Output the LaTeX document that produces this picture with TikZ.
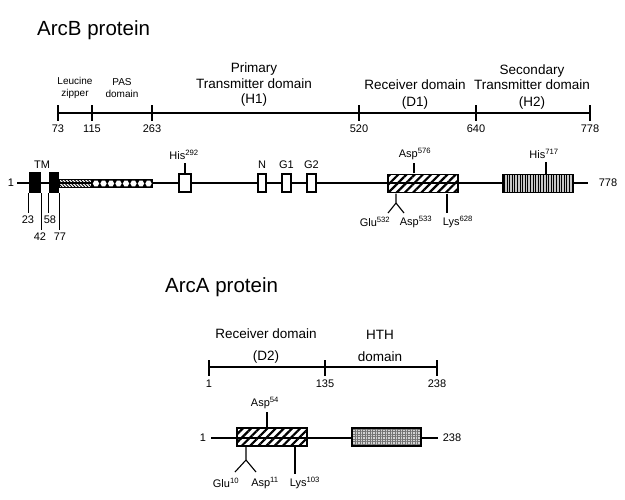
\documentclass[tikz,border=0pt]{standalone}
\usepackage{fontspec}
\setmainfont{Liberation Sans}
\usetikzlibrary{positioning, patterns, patterns.meta}

\begin{document}
\begin{tikzpicture}[x=1pt, y=-1pt,
    lbl/.style={inner sep=0pt, font=\fontsize{11}{12}\selectfont},
    smalllbl/.style={inner sep=0pt, font=\fontsize{10}{12}\selectfont, align=center},
    domlbl/.style={inner sep=0pt, font=\fontsize{13.5}{15.5}\selectfont, align=center},
    title/.style={inner sep=0pt, anchor=base west, font=\fontsize{20.5}{24}\selectfont},
    chain/.style={line width=2pt},
    tick/.style={line width=1.2pt},
    pin/.style={line width=1.1pt},
    seg/.style={draw, line width=1.8pt, rectangle, inner sep=0pt, minimum height=18pt},
    tmseg/.style={seg, fill=black, minimum height=19.5pt},
    linker/.style={draw, line width=1.2pt, rectangle, inner sep=0pt, minimum height=8pt},
    recpat/.style={pattern={Lines[angle=45, distance=5.8pt, line width=2.2pt]}},
    zippat/.style={pattern={Lines[angle=-45, distance=2.3pt, line width=0.9pt]}},
    stripepat/.style={preaction={fill=gray!45}, pattern={Lines[angle=90, distance=2.6pt, line width=0.9pt]}},
    stipplepat/.style={preaction={fill=gray!35}, pattern color=gray!90!black, pattern={Hatch[distance=2.5pt, line width=0.45pt]}}]

\useasboundingbox (0,0) rectangle (625,499);

% ArcB
\node [title] (arcb) at (37,35) {ArcB protein};

\foreach \v/\x in {73/58, 115/92, 263/152, 520/359, 640/476, 778/590} {
    \coordinate (b\v) at (\x,113);
    \draw [tick] (\x,105) -- (\x,121);
    \node [lbl] (nb\v) at (\x,129) {\v};
}
\draw [tick] (b73) -- (b778);

\node [smalllbl] (leu) at (75,88) {Leucine\\zipper};
\node [smalllbl] (pas) at (122,88) {PAS\\domain};
\node [domlbl] (h1) at (254,85) {Primary\\Transmitter domain\\(H1)};
\node [domlbl] (d1) at (415,94.5) {Receiver domain\\[1.5pt](D1)};
\node [domlbl] (h2) at (532,87) {Secondary\\Transmitter domain\\[1.5pt](H2)};

\node [lbl] (b1) at (11,183) {1};
\node [lbl] (bn) at (608,183) {778};
\coordinate (bl) at (17,183);
\coordinate (br) at (588,183);
\draw [chain] (bl) -- (br);

\node [tmseg, minimum width=10.5pt] (tm1) at (35,182.5) {};
\node [tmseg, minimum width=8.5pt] (tm2) at (54,182.5) {};
\node [linker, zippat, minimum width=33pt] (lz) at (75.5,183.5) {};
\node [linker, fill=black, minimum width=60pt] (pasbox) at (122,183.5) {};
\foreach \i in {0,...,7} {
    \fill [white] ({96+7.5*\i},183.5) +(0:3.2pt) -- +(60:3.2pt) -- +(120:3.2pt)
        -- +(180:3.2pt) -- +(240:3.2pt) -- +(300:3.2pt) -- cycle;
}
\node [seg, fill=white, minimum width=12pt] (his292) at (185,183) {};
\node [seg, fill=white, minimum width=8.5pt] (nbox) at (262,183) {};
\node [seg, fill=white, minimum width=9pt] (g1box) at (286.5,183) {};
\node [seg, fill=white, minimum width=9pt] (g2box) at (311.5,183) {};
\node [seg, recpat, minimum width=70pt] (recb) at (423,183.5) {};
\node [seg, stripepat, minimum width=70pt] (h2box) at (538,183.5) {};

% labels of the ArcB chain
\node [lbl] (tm) at (42,165) {TM};
\node [lbl] (n23) at (28,220) {23};
\node [lbl] (n42) at (40,237) {42};
\node [lbl] (n58) at (50,220) {58};
\node [lbl] (n77) at (60,237) {77};
\draw [pin] (tm1.south west) -- ([yshift=3pt]tm1.south west |- n23.north);
\draw [pin] (tm1.south east) -- ([yshift=3pt]tm1.south east |- n42.north);
\draw [pin] (tm2.south west) -- ([yshift=3pt]tm2.south west |- n58.north);
\draw [pin] (tm2.south east) -- ([yshift=3pt]tm2.south east |- n77.north);

\node [lbl] (his) at (184,155) {His\textsuperscript{292}};
\draw [pin] (his292.north) -- ([yshift=-3pt]his292.north |- his.south);
\node [lbl] (nl) at (262,165) {N};
\node [lbl] (g1l) at (286.5,165) {G1};
\node [lbl] (g2l) at (311.5,165) {G2};

\node [lbl] (asp576) at (415,154) {Asp\textsuperscript{576}};
\draw [pin] ([xshift=-9pt]recb.north) -- ([xshift=-9pt, yshift=-3pt]recb.north |- asp576.south);
\node [lbl] (his717) at (544,154) {His\textsuperscript{717}};
\draw [pin] ([xshift=8pt]h2box.north) -- ([xshift=8pt, yshift=-3pt]h2box.north |- his717.south);

\node [lbl] (glu532) at (375,222) {Glu\textsuperscript{532}};
\node [lbl] (asp533) at (416,222) {Asp\textsuperscript{533}};
\node [lbl] (lys628) at (458,222) {Lys\textsuperscript{628}};
\coordinate (yb) at (396,203);
\coordinate (ybl) at (388,213);
\coordinate (ybr) at (404,213);
\draw [pin] (recb.south -| yb) -- (yb) -- (ybl);
\draw [pin] (yb) -- (ybr);
\draw [pin] ([xshift=24pt]recb.south) -- ([xshift=24pt, yshift=3pt]recb.south |- lys628.north);

% ArcA
\node [title] (arca) at (165,292) {ArcA protein};

\foreach \v/\x in {1/209, 135/325, 238/437} {
    \coordinate (a\v) at (\x,367);
    \draw [tick] (\x,360) -- (\x,376);
    \node [lbl] (na\v) at (\x,384) {\v};
}
\draw [tick] (a1) -- (a238);

\node [domlbl] (d2) at (266,346) {Receiver domain\\[6.5pt](D2)};
\node [domlbl] (hth) at (380,346) {HTH\\[6.5pt]domain};

\node [lbl] (ca1) at (203,438) {1};
\node [lbl] (can) at (452,438) {238};
\coordinate (al) at (211,438);
\coordinate (ar) at (438,438);
\draw [chain] (al) -- (ar);

\node [seg, recpat, minimum width=70pt] (reca) at (272,437) {};
\node [seg, stipplepat, minimum width=69pt] (htha) at (386.5,437) {};

\node [lbl] (asp54) at (265,403) {Asp\textsuperscript{54}};
\draw [pin] ([xshift=-5pt]reca.north) -- ([xshift=-5pt, yshift=-3pt]reca.north |- asp54.south);

\node [lbl] (glu10) at (226,483) {Glu\textsuperscript{10}};
\node [lbl] (asp11) at (265,483) {Asp\textsuperscript{11}};
\node [lbl] (lys103) at (305,483) {Lys\textsuperscript{103}};
\coordinate (ya) at (246,460);
\coordinate (yal) at (235,472);
\coordinate (yar) at (256,472);
\draw [pin] (reca.south -| ya) -- (ya) -- (yal);
\draw [pin] (ya) -- (yar);
\draw [pin] ([xshift=23pt]reca.south) -- ([xshift=23pt, yshift=3pt]reca.south |- lys103.north);
\end{tikzpicture}
\end{document}
